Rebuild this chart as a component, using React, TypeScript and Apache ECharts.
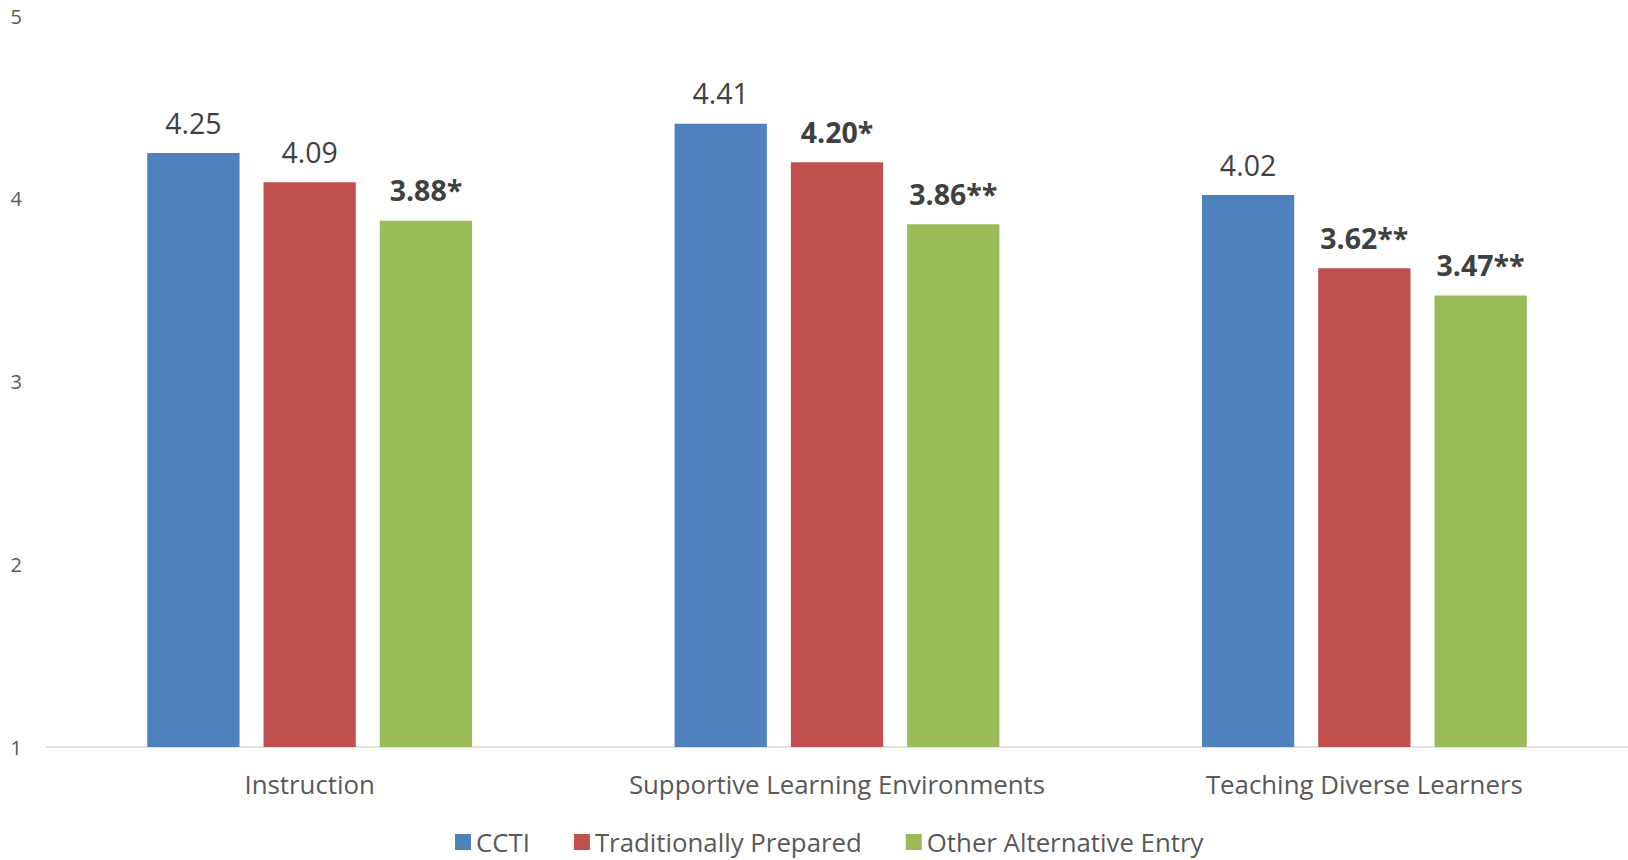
import React, { useEffect, useRef } from "react";
import * as echarts from "echarts";

const categories = ["Instruction", "Supportive Learning Environments", "Teaching Diverse Learners"];
const seriesNames = ["CCTI", "Traditionally Prepared", "Other Alternative Entry"];
const cctiValues = [4.25, 4.41, 4.02];
const tradValues = [4.09, 4.2, 3.62];
const otherValues = [3.88, 3.86, 3.47];
const cctiLabels = ["4.25", "4.41", "4.02"];
const tradLabels = ["4.09", "4.20*", "3.62**"];
const otherLabels = ["3.88*", "3.86**", "3.47**"];
const colors = ["#4F81BD", "#C0504D", "#9BBB59"];
const FONT = "'Open Sans', 'Noto Sans', sans-serif";

export default function App() {
  const ref = useRef<HTMLDivElement>(null);
  useEffect(() => {
    if (!ref.current) return;
    const chart = echarts.init(ref.current, undefined, { renderer: "svg" });
    const mk = (name: string, vals: number[], labels: string[], color: string) => ({
      name,
      type: "bar",
      barWidth: "17.5%",
      barGap: "26%",
      itemStyle: { color },
      data: vals.map((v, i) => ({
        value: v,
        label: {
          show: true,
          position: "top",
          distance: 16,
          formatter: labels[i],
          fontFamily: FONT,
          fontSize: 28.5,
          color: "#404040",
          fontWeight: labels[i].includes("*") ? "bold" : "normal",
        },
      })),
    });
    chart.setOption({
      animation: false,
      textStyle: { fontFamily: FONT },
      color: colors,
      grid: { left: 46, right: 0, top: 16, bottom: 113, containLabel: false },
      legend: {
        left: 455,
        top: 828,
        padding: 0,
        itemWidth: 16,
        itemHeight: 16,
        itemGap: 44,
        icon: "rect",
        textStyle: { fontFamily: FONT, fontSize: 25.8, lineHeight: 28, color: "#595959" },
        data: seriesNames,
      },
      xAxis: {
        type: "category",
        data: categories,
        axisLine: { lineStyle: { color: "#D9D9D9", width: 1.5 } },
        axisTick: { show: false },
        axisLabel: {
          interval: 0,
          hideOverlap: false,
          fontFamily: FONT,
          fontSize: 25.8,
          color: "#595959",
          margin: 24,
        },
      },
      yAxis: {
        type: "value",
        min: 1,
        max: 5,
        interval: 1,
        splitLine: { show: false },
        axisLine: { show: false },
        axisTick: { show: false },
        axisLabel: { fontFamily: FONT, fontSize: 20, color: "#595959", margin: 24 },
      },
      series: [
        mk(seriesNames[0], cctiValues, cctiLabels, colors[0]),
        mk(seriesNames[1], tradValues, tradLabels, colors[1]),
        mk(seriesNames[2], otherValues, otherLabels, colors[2]),
      ],
    });
    return () => chart.dispose();
  }, []);
  return (
    <div
      ref={ref}
      style={{ position: "fixed", left: 0, top: 0, width: 1628, height: 860, background: "#fff" }}
    />
  );
}
